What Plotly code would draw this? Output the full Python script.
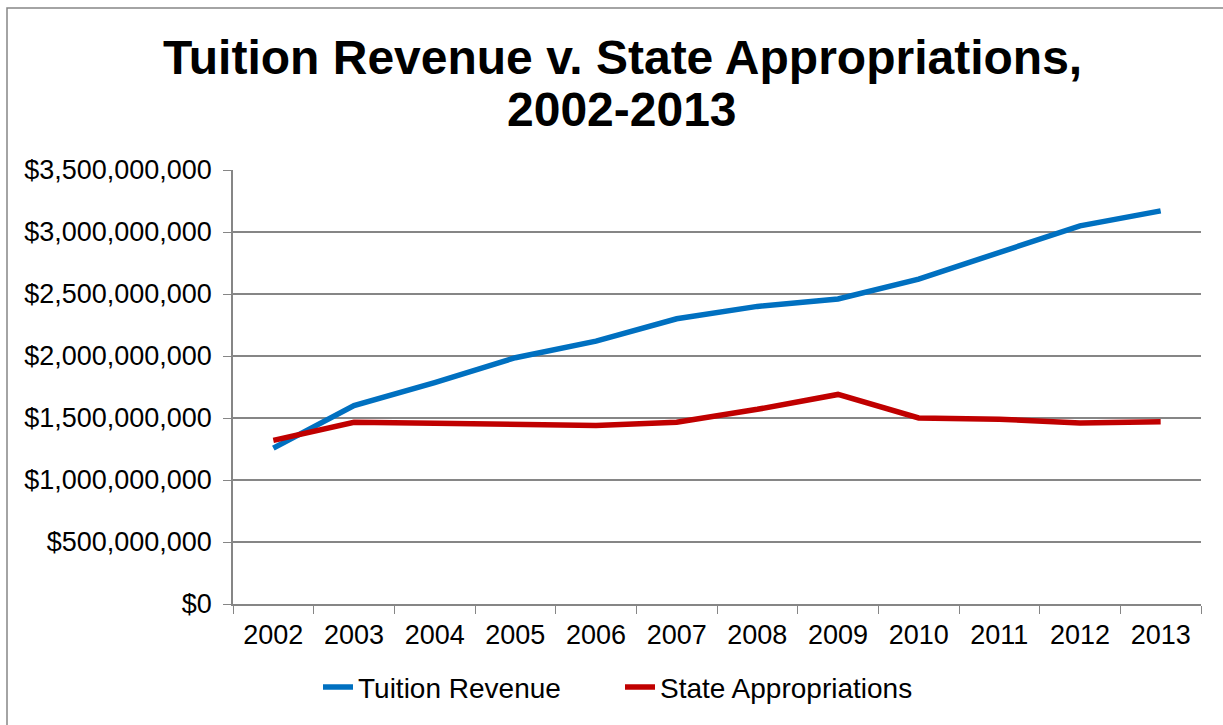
import plotly.graph_objects as go

years = ["2002", "2003", "2004", "2005", "2006", "2007", "2008", "2009", "2010", "2011", "2012", "2013"]
tuition_revenue = [1.257e9, 1.600e9, 1.786e9, 1.986e9, 2.120e9, 2.300e9, 2.400e9, 2.460e9, 2.620e9, 2.835e9, 3.050e9, 3.170e9]
state_appropriations = [1.320e9, 1.466e9, 1.458e9, 1.450e9, 1.440e9, 1.466e9, 1.570e9, 1.690e9, 1.500e9, 1.490e9, 1.460e9, 1.470e9]
title_lines = ["Tuition Revenue v. State Appropriations,", "2002-2013"]

FONT = "Liberation Sans, Arial, sans-serif"
W, H = 1223, 725
L, R, T, B = 233, 22, 170, 118
pw = W - L - R
ph = H - T - B

def px_x(x):
    return (x - L) / pw

def px_y(y):
    return (H - B - y) / ph

fig = go.Figure()
fig.add_trace(go.Scatter(x=years, y=tuition_revenue, name="Tuition Revenue", mode="lines",
                         line=dict(color="#0070C0", width=5.5)))
fig.add_trace(go.Scatter(x=years, y=state_appropriations, name="State Appropriations", mode="lines",
                         line=dict(color="#C00000", width=5.5)))

title_y = [57, 109]
annotations = [dict(text="<b>%s</b>" % t, xref="paper", yref="paper", x=px_x(622), y=px_y(yy),
                    xanchor="center", yanchor="middle", showarrow=False,
                    font=dict(family=FONT, size=48, color="black"))
               for t, yy in zip(title_lines, title_y)]

fig.update_layout(
    width=W, height=H,
    margin=dict(l=L, r=R, t=T, b=B),
    paper_bgcolor="white", plot_bgcolor="white",
    font=dict(family=FONT, size=27, color="black"),
    showlegend=True,
    legend=dict(orientation="h", x=px_x(620), xanchor="center", y=px_y(691), yanchor="middle",
                font=dict(family=FONT, size=28), entrywidth=257, tracegroupgap=0),
    annotations=annotations,
    shapes=[dict(type="rect", xref="paper", yref="paper", x0=px_x(7), x1=px_x(1240), y0=px_y(7), y1=px_y(740),
                 line=dict(color="#868686", width=1.5), fillcolor="rgba(0,0,0,0)", layer="below")],
)
fig.update_xaxes(type="category", range=[-0.5, 11.5], tickson="boundaries", ticks="outside", ticklen=8,
                 tickcolor="#868686", showline=True, linecolor="#868686", linewidth=1.5, showgrid=False,
                 tickfont=dict(family=FONT, size=27), ticklabelstandoff=6, fixedrange=True)
fig.update_yaxes(range=[0, 3.5e9], dtick=5e8, tickformat="$,.0f", ticks="outside", ticklen=8,
                 tickcolor="#868686", showline=True, linecolor="#868686", linewidth=1.5,
                 showgrid=True, gridcolor="#868686", gridwidth=1.5, zeroline=False,
                 tickfont=dict(family=FONT, size=27), ticklabelstandoff=6, fixedrange=True)

fig.write_html("out.html", config={"displayModeBar": False},
               post_script="document.body.style.margin='0';document.body.style.overflow='hidden';")
